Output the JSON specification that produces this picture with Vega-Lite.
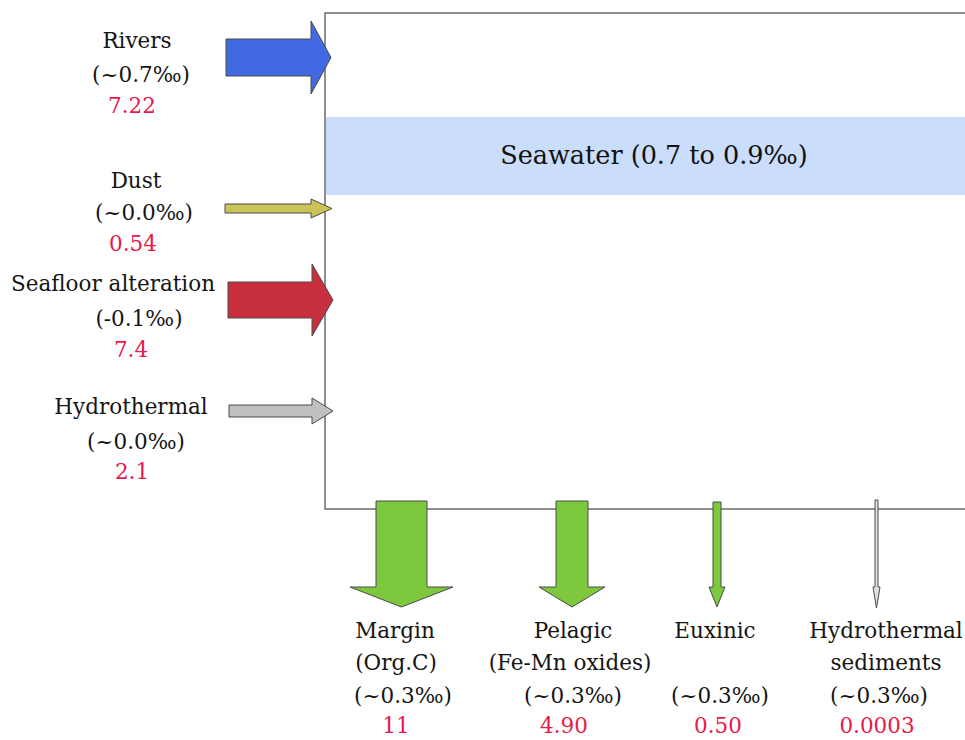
{
  "$schema": "https://vega.github.io/schema/vega-lite/v6.json",
  "width": 965,
  "height": 740,
  "autosize": "none",
  "padding": 0,
  "background": "white",
  "config": {"view": {"stroke": null}},
  "resolve": {"scale": {"color": "independent"}},
  "datasets": {
    "regions": [
      {"part": "box", "x": 325, "x2": 968, "y": 13, "y2": 509},
      {"part": "band", "x": 326, "x2": 968, "y": 117, "y2": 195}
    ],
    "arrows": [
      {"arrow": "Rivers", "i": 1, "x": 226, "y": 39},
      {"arrow": "Rivers", "i": 2, "x": 311, "y": 39},
      {"arrow": "Rivers", "i": 3, "x": 311, "y": 21},
      {"arrow": "Rivers", "i": 4, "x": 331, "y": 57.5},
      {"arrow": "Rivers", "i": 5, "x": 311, "y": 94},
      {"arrow": "Rivers", "i": 6, "x": 311, "y": 76},
      {"arrow": "Rivers", "i": 7, "x": 226, "y": 76},
      {"arrow": "Rivers", "i": 8, "x": 226, "y": 39},
      {"arrow": "Dust", "i": 1, "x": 225, "y": 204},
      {"arrow": "Dust", "i": 2, "x": 311, "y": 204},
      {"arrow": "Dust", "i": 3, "x": 311, "y": 199},
      {"arrow": "Dust", "i": 4, "x": 332, "y": 208.5},
      {"arrow": "Dust", "i": 5, "x": 311, "y": 218},
      {"arrow": "Dust", "i": 6, "x": 311, "y": 213},
      {"arrow": "Dust", "i": 7, "x": 225, "y": 213},
      {"arrow": "Dust", "i": 8, "x": 225, "y": 204},
      {"arrow": "Seafloor alteration", "i": 1, "x": 228, "y": 282},
      {"arrow": "Seafloor alteration", "i": 2, "x": 312, "y": 282},
      {"arrow": "Seafloor alteration", "i": 3, "x": 312, "y": 264},
      {"arrow": "Seafloor alteration", "i": 4, "x": 333, "y": 300},
      {"arrow": "Seafloor alteration", "i": 5, "x": 312, "y": 336},
      {"arrow": "Seafloor alteration", "i": 6, "x": 312, "y": 318},
      {"arrow": "Seafloor alteration", "i": 7, "x": 228, "y": 318},
      {"arrow": "Seafloor alteration", "i": 8, "x": 228, "y": 282},
      {"arrow": "Hydrothermal", "i": 1, "x": 229, "y": 405},
      {"arrow": "Hydrothermal", "i": 2, "x": 312, "y": 405},
      {"arrow": "Hydrothermal", "i": 3, "x": 312, "y": 398},
      {"arrow": "Hydrothermal", "i": 4, "x": 333, "y": 411},
      {"arrow": "Hydrothermal", "i": 5, "x": 312, "y": 424},
      {"arrow": "Hydrothermal", "i": 6, "x": 312, "y": 417},
      {"arrow": "Hydrothermal", "i": 7, "x": 229, "y": 417},
      {"arrow": "Hydrothermal", "i": 8, "x": 229, "y": 405},
      {"arrow": "Margin", "i": 1, "x": 376, "y": 501},
      {"arrow": "Margin", "i": 2, "x": 427, "y": 501},
      {"arrow": "Margin", "i": 3, "x": 427, "y": 587},
      {"arrow": "Margin", "i": 4, "x": 453, "y": 587},
      {"arrow": "Margin", "i": 5, "x": 401.5, "y": 607},
      {"arrow": "Margin", "i": 6, "x": 350, "y": 587},
      {"arrow": "Margin", "i": 7, "x": 376, "y": 587},
      {"arrow": "Margin", "i": 8, "x": 376, "y": 501},
      {"arrow": "Pelagic", "i": 1, "x": 556, "y": 501},
      {"arrow": "Pelagic", "i": 2, "x": 588, "y": 501},
      {"arrow": "Pelagic", "i": 3, "x": 588, "y": 587},
      {"arrow": "Pelagic", "i": 4, "x": 605, "y": 587},
      {"arrow": "Pelagic", "i": 5, "x": 572, "y": 607},
      {"arrow": "Pelagic", "i": 6, "x": 539, "y": 587},
      {"arrow": "Pelagic", "i": 7, "x": 556, "y": 587},
      {"arrow": "Pelagic", "i": 8, "x": 556, "y": 501},
      {"arrow": "Euxinic", "i": 1, "x": 713, "y": 502},
      {"arrow": "Euxinic", "i": 2, "x": 721, "y": 502},
      {"arrow": "Euxinic", "i": 3, "x": 721, "y": 587},
      {"arrow": "Euxinic", "i": 4, "x": 725, "y": 587},
      {"arrow": "Euxinic", "i": 5, "x": 717, "y": 607},
      {"arrow": "Euxinic", "i": 6, "x": 709, "y": 587},
      {"arrow": "Euxinic", "i": 7, "x": 713, "y": 587},
      {"arrow": "Euxinic", "i": 8, "x": 713, "y": 502},
      {"arrow": "Hydrothermal sediments", "i": 1, "x": 875, "y": 500},
      {"arrow": "Hydrothermal sediments", "i": 2, "x": 878, "y": 500},
      {"arrow": "Hydrothermal sediments", "i": 3, "x": 878, "y": 587},
      {"arrow": "Hydrothermal sediments", "i": 4, "x": 880, "y": 587},
      {"arrow": "Hydrothermal sediments", "i": 5, "x": 876.5, "y": 608},
      {"arrow": "Hydrothermal sediments", "i": 6, "x": 873, "y": 587},
      {"arrow": "Hydrothermal sediments", "i": 7, "x": 875, "y": 587},
      {"arrow": "Hydrothermal sediments", "i": 8, "x": 875, "y": 500}
    ],
    "labels": [
      {"text": "Rivers", "kind": "name", "x": 137, "y": 42},
      {"text": "(~0.7‰)", "kind": "name", "x": 141, "y": 76},
      {"text": "7.22", "kind": "value", "x": 132, "y": 107},
      {"text": "Dust", "kind": "name", "x": 136, "y": 182},
      {"text": "(~0.0‰)", "kind": "name", "x": 144, "y": 214},
      {"text": "0.54", "kind": "value", "x": 133, "y": 245},
      {"text": "Seafloor alteration", "kind": "name", "x": 113, "y": 285},
      {"text": "(-0.1‰)", "kind": "name", "x": 139, "y": 320},
      {"text": "7.4", "kind": "value", "x": 131, "y": 351},
      {"text": "Hydrothermal", "kind": "name", "x": 131, "y": 408},
      {"text": "(~0.0‰)", "kind": "name", "x": 136, "y": 443},
      {"text": "2.1", "kind": "value", "x": 132, "y": 473},
      {"text": "Margin", "kind": "name", "x": 395, "y": 632},
      {"text": "(Org.C)", "kind": "name", "x": 396, "y": 664},
      {"text": "(~0.3‰)", "kind": "name", "x": 403, "y": 697},
      {"text": "11", "kind": "value", "x": 396, "y": 727},
      {"text": "Pelagic", "kind": "name", "x": 573, "y": 632},
      {"text": "(Fe-Mn oxides)", "kind": "name", "x": 570, "y": 664},
      {"text": "(~0.3‰)", "kind": "name", "x": 573, "y": 697},
      {"text": "4.90", "kind": "value", "x": 564, "y": 727},
      {"text": "Euxinic", "kind": "name", "x": 715, "y": 632},
      {"text": "(~0.3‰)", "kind": "name", "x": 720, "y": 697},
      {"text": "0.50", "kind": "value", "x": 718, "y": 727},
      {"text": "Hydrothermal", "kind": "name", "x": 886, "y": 632},
      {"text": "sediments", "kind": "name", "x": 886, "y": 664},
      {"text": "(~0.3‰)", "kind": "name", "x": 879, "y": 697},
      {"text": "0.0003", "kind": "value", "x": 877, "y": 727}
    ],
    "title": [
      {"text": "Seawater  (0.7 to 0.9‰)", "x": 654, "y": 156}
    ]
  },
  "encoding": {
    "x": {"field": "x", "type": "quantitative", "scale": {"domain": [0, 965], "nice": false, "zero": false}, "axis": null},
    "y": {"field": "y", "type": "quantitative", "scale": {"domain": [0, 740], "nice": false, "zero": false, "reverse": true}, "axis": null}
  },
  "layer": [
    {
      "data": {"name": "regions"},
      "transform": [{"filter": "datum.part === 'box'"}],
      "mark": {"type": "rect", "fill": "white", "stroke": "#6b6b6b", "strokeWidth": 1.5},
      "encoding": {"x2": {"field": "x2"}, "y2": {"field": "y2"}}
    },
    {
      "data": {"name": "regions"},
      "transform": [{"filter": "datum.part === 'band'"}],
      "mark": {"type": "rect", "fill": "#cadefb", "strokeWidth": 0},
      "encoding": {"x2": {"field": "x2"}, "y2": {"field": "y2"}}
    },
    {
      "data": {"name": "title"},
      "mark": {"type": "text", "font": "DejaVu Serif", "fontSize": 25.5, "align": "center", "baseline": "middle", "fill": "#111111"},
      "encoding": {"text": {"field": "text"}}
    },
    {
      "data": {"name": "arrows"},
      "mark": {"type": "line", "filled": true, "stroke": "#4a4a4a", "strokeWidth": 1, "strokeJoin": "miter"},
      "encoding": {
        "order": {"field": "i", "type": "quantitative"},
        "detail": {"field": "arrow"},
        "color": {
          "field": "arrow",
          "type": "nominal",
          "legend": null,
          "scale": {
            "domain": ["Rivers", "Dust", "Seafloor alteration", "Hydrothermal", "Margin", "Pelagic", "Euxinic", "Hydrothermal sediments"],
            "range": ["#4169e1", "#cbc358", "#c9303f", "#c0c0c0", "#7ec83e", "#7ec83e", "#7ec83e", "#dce3dc"]
          }
        }
      }
    },
    {
      "data": {"name": "labels"},
      "mark": {"type": "text", "font": "DejaVu Serif", "fontSize": 21.5, "align": "center", "baseline": "middle"},
      "encoding": {
        "text": {"field": "text"},
        "color": {
          "field": "kind",
          "type": "nominal",
          "legend": null,
          "scale": {"domain": ["name", "value"], "range": ["#151515", "#e8194b"]}
        }
      }
    }
  ]
}
